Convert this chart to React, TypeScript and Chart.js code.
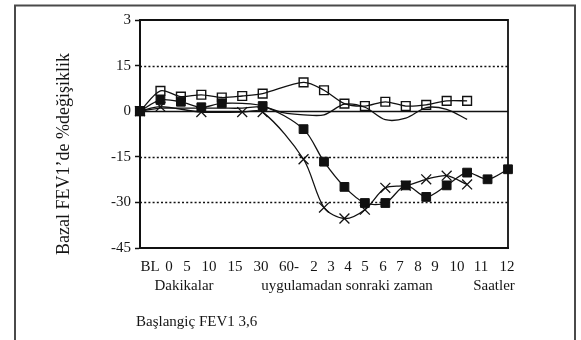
import React, { useEffect, useRef } from 'react';
import { Chart, registerables } from 'chart.js';

Chart.register(...registerables);

// ---- data ----
const xTickLabels = ['BL', '0', '5', '10', '15', '30', '60-', '2', '3', '4', '5', '6', '7', '8', '9', '10', '11', '12'];
const xTickPositions = [0.49, 1.42, 2.3, 3.38, 4.65, 5.92, 7.29, 8.51, 9.34, 10.18, 11.0, 11.89, 12.72, 13.6, 14.43, 15.5, 16.68, 17.95];
const yTickLabels: Record<string, string> = { '30': '3', '15': '15', '0': '0', '-15': '-15', '-30': '-30', '-45': '-45' };
const dottedLevels = [15, -15, -30];

const filledX = [0, 1, 2, 3, 4, 6, 8, 9, 10, 11, 12, 13, 14, 15, 16, 17, 18];
const filledY = [0, 3.7, 3.1, 1.3, 2.6, 1.7, -5.9, -16.6, -24.9, -30.2, -30.2, -24.4, -28.2, -24.4, -20.2, -22.4, -19.1];

const openX = [0, 1, 2, 3, 4, 5, 6, 8, 9, 10, 11, 12, 13, 14, 15, 16];
const openY = [0, 6.7, 4.8, 5.4, 4.5, 5.0, 5.8, 9.5, 6.9, 2.5, 1.7, 3.1, 1.7, 2.1, 3.4, 3.4];

const crossX = [0, 1, 3, 5, 6, 8, 9, 10, 11, 12, 13, 14, 15, 16];
const crossY = [0, 1.5, -0.3, -0.3, -0.3, -15.8, -31.7, -35.3, -32.4, -25.2, -24.5, -22.4, -21.2, -24.1];

const plainX = [0, 1, 2, 3, 4, 5, 6, 7, 8, 9, 10, 11, 12, 13, 14, 15, 16];
const plainY = [0, 1.0, 1.0, 1.0, 1.0, 1.0, 1.5, -0.5, -1.2, -1.2, 2.3, 1.3, -2.8, -2.3, 1.2, 0.6, -2.7];

const bottomTexts = ['Dakikalar', 'uygulamadan sonraki zaman', 'Saatler'];
const noteText = 'Başlangiç FEV1 3,6';
const yTitle = 'Bazal FEV1’de %değişiklik';

const INK = '#111111';
const TEXT = '#151515';
const SERIF = '"Liberation Serif", "Times New Roman", serif';

const pts = (xs: number[], ys: number[]) => xs.map((x, i) => ({ x, y: ys[i] }));

const decorPlugin = {
  id: 'decor',
  beforeDatasetsDraw(chart: any) {
    const { ctx, chartArea: a, scales } = chart;
    const y = scales.y;
    ctx.save();
    ctx.strokeStyle = INK;
    ctx.lineWidth = 1.6;
    ctx.setLineDash([2, 2.2]);
    for (const v of dottedLevels) {
      const py = Math.round(y.getPixelForValue(v)) + 0.5;
      ctx.beginPath();
      ctx.moveTo(a.left, py);
      ctx.lineTo(a.right, py);
      ctx.stroke();
    }
    ctx.setLineDash([]);
    const pz = Math.round(y.getPixelForValue(0)) + 0.5;
    ctx.beginPath();
    ctx.moveTo(a.left, pz);
    ctx.lineTo(a.right, pz);
    ctx.stroke();
    ctx.restore();
  },
  afterDraw(chart: any) {
    const { ctx, chartArea: a } = chart;
    ctx.save();
    ctx.strokeStyle = INK;
    ctx.lineWidth = 1.8;
    ctx.beginPath();
    ctx.moveTo(a.left, a.top);
    ctx.lineTo(a.right, a.top);
    ctx.lineTo(a.right, a.bottom);
    ctx.stroke();
    ctx.strokeStyle = '#4a4a4a';
    ctx.lineWidth = 2;
    ctx.beginPath();
    ctx.moveTo(15, 340);
    ctx.lineTo(15, 5.5);
    ctx.lineTo(575, 5.5);
    ctx.lineTo(575, 340);
    ctx.stroke();
    ctx.fillStyle = TEXT;
    ctx.font = `15px ${SERIF}`;
    ctx.textBaseline = 'middle';
    ctx.textAlign = 'center';
    const cx = [184, 347, 494];
    bottomTexts.forEach((t, i) => ctx.fillText(t, cx[i], 286));
    ctx.textAlign = 'left';
    ctx.fillText(noteText, 136, 322);
    ctx.translate(64, 154);
    ctx.rotate(-Math.PI / 2);
    ctx.textAlign = 'center';
    ctx.font = `18px ${SERIF}`;
    ctx.fillText(yTitle, 0, 0);
    ctx.restore();
  },
};

export default function App() {
  const ref = useRef<HTMLCanvasElement | null>(null);
  useEffect(() => {
    if (!ref.current) return;
    const chart = new Chart(ref.current, {
      type: 'line',
      data: {
        datasets: [
          {
            label: 'A',
            data: pts(filledX, filledY),
            borderColor: INK,
            backgroundColor: INK,
            borderWidth: 1.3,
            pointStyle: 'rect',
            pointRadius: 6.2,
            pointBorderWidth: 1,
            pointBackgroundColor: INK,
            pointBorderColor: INK,
            tension: 0.3,
            fill: false,
            clip: false,
          },
          {
            label: 'B',
            data: pts(openX, openY),
            borderColor: INK,
            borderWidth: 1.3,
            pointStyle: 'rect',
            pointRadius: 6.2,
            pointBorderWidth: 1.4,
            pointBackgroundColor: 'rgba(255,255,255,0)',
            pointBorderColor: INK,
            tension: 0.3,
            fill: false,
            clip: false,
          },
          {
            label: 'C',
            data: pts(crossX, crossY),
            borderColor: INK,
            borderWidth: 1.3,
            pointStyle: 'crossRot',
            pointRadius: 7,
            pointBorderWidth: 1.3,
            pointBorderColor: INK,
            tension: 0.3,
            fill: false,
            clip: false,
          },
          {
            label: 'D',
            data: pts(plainX, plainY),
            borderColor: INK,
            borderWidth: 1.3,
            pointRadius: 0,
            tension: 0.3,
            fill: false,
            clip: false,
          },
        ],
      },
      options: {
        animation: false,
        responsive: false,
        maintainAspectRatio: false,
        layout: { padding: { left: 0, top: 20, right: 73, bottom: 0 } },
        plugins: { legend: { display: false }, tooltip: { enabled: false } },
        scales: {
          x: {
            type: 'linear',
            min: 0,
            max: 18,
            afterFit: (s: any) => { s.height = 92; },
            afterBuildTicks: (s: any) => { s.ticks = xTickPositions.map((v) => ({ value: v })); },
            ticks: {
              autoSkip: false,
              maxRotation: 0,
              padding: 2,
              color: TEXT,
              font: { family: SERIF, size: 15 },
              callback: (_v: any, i: number) => xTickLabels[i],
            },
            grid: { display: false },
            border: { display: true, color: INK, width: 2 },
          },
          y: {
            min: -45,
            max: 30,
            afterFit: (s: any) => { s.width = 140; },
            ticks: {
              stepSize: 15,
              padding: 4,
              color: TEXT,
              font: { family: SERIF, size: 15 },
              callback: (v: any) => yTickLabels[String(v)] ?? String(v),
            },
            grid: { display: true, drawOnChartArea: false, drawTicks: true, tickLength: 5, tickColor: INK, tickWidth: 1.5 },
            border: { display: true, color: INK, width: 2 },
          },
        },
      },
      plugins: [decorPlugin],
    } as any);
    return () => chart.destroy();
  }, []);
  return (
    <div style={{ position: 'absolute', left: 0, top: 0, width: 581, height: 340, background: '#fff' }}>
      <canvas ref={ref} width={581} height={340} style={{ width: 581, height: 340, display: 'block' }} />
    </div>
  );
}
